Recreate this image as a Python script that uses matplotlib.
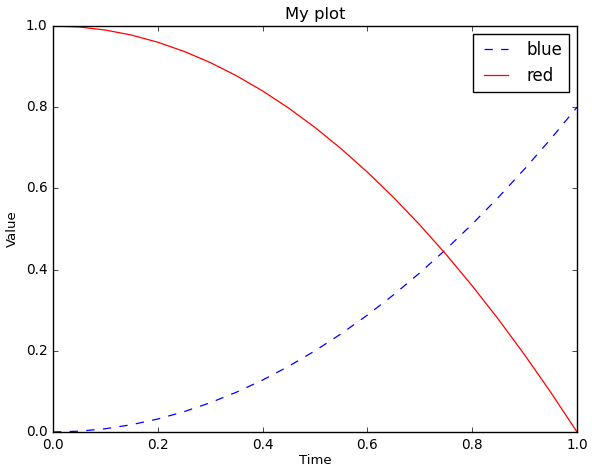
import matplotlib
matplotlib.use("Agg")
import matplotlib.pyplot as plt

plt.style.use('classic')
plt.rcParams['font.size'] = 9.5

time = [0.0, 0.05, 0.1, 0.15, 0.2, 0.25, 0.3, 0.35, 0.4, 0.45, 0.5,
        0.55, 0.6, 0.65, 0.7, 0.75, 0.8, 0.85, 0.9, 0.95, 1.0]
blue = [0.0, 0.002, 0.008, 0.018, 0.032, 0.05, 0.072, 0.098, 0.128, 0.162, 0.2,
        0.242, 0.288, 0.338, 0.392, 0.45, 0.512, 0.578, 0.648, 0.722, 0.8]
red = [1.0, 0.9975, 0.99, 0.9775, 0.96, 0.9375, 0.91, 0.8775, 0.84, 0.7975, 0.75,
       0.6975, 0.64, 0.5775, 0.51, 0.4375, 0.36, 0.2775, 0.19, 0.0975, 0.0]

fig = plt.figure(figsize=(5.92, 4.69), dpi=100, facecolor='white')
ax = fig.add_subplot(111)
ax.plot(time, blue, 'b--', label='blue', linewidth=0.9)
ax.plot(time, red, 'r-', label='red', linewidth=0.9)
ax.set_title('My plot', fontsize=11.8)
ax.set_xlabel('Time', fontsize=9.5, labelpad=2)
ax.set_ylabel('Value', fontsize=9.5)
ax.set_xlim(0, 1)
ax.set_ylim(0, 1)
ax.tick_params(labelsize=9.8, length=3.5)
ax.legend(loc='upper right', fontsize=12)
fig.subplots_adjust(left=0.0895, right=0.9747, top=0.9446, bottom=0.0789)
fig.savefig('out.png', dpi=100, facecolor='white')
